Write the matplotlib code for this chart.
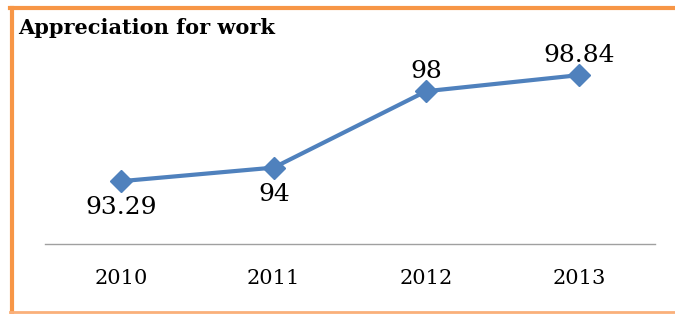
import matplotlib.pyplot as plt
from matplotlib.lines import Line2D

years = ['2010', '2011', '2012', '2013']
values = [93.29, 94, 98, 98.84]
value_labels = ['93.29', '94', '98', '98.84']
label_pos = ['below', 'below', 'above', 'above']

W, H = 675, 314
fig = plt.figure(figsize=(W / 100, H / 100), dpi=100)

# plot area in pixel terms: x 45..655, y(top) 52..244
ax = fig.add_axes([45 / W, 1 - 244 / H, 610 / W, 191 / H])
x = list(range(len(years)))
ax.plot(x, values, color='#4F81BD', linewidth=3, marker='D', markersize=11,
        markerfacecolor='#4F81BD', markeredgecolor='#4F81BD')
ax.set_xlim(-0.5, len(years) - 0.5)
ax.set_ylim(90, 100)

for xi, v, lab, pos in zip(x, values, value_labels, label_pos):
    if pos == 'below':
        ax.annotate(lab, (xi, v), xytext=(0, -11), textcoords='offset points',
                    ha='center', va='top', fontsize=18, family='DejaVu Serif')
    else:
        ax.annotate(lab, (xi, v), xytext=(0, 6), textcoords='offset points',
                    ha='center', va='bottom', fontsize=18, family='DejaVu Serif')

ax.set_xticks(x)
ax.set_xticklabels(years, fontsize=15, family='DejaVu Serif')
ax.tick_params(axis='x', length=0, pad=18)
ax.set_yticks([])
for side in ['top', 'right', 'left']:
    ax.spines[side].set_visible(False)
ax.spines['bottom'].set_color('#A0A0A0')
ax.spines['bottom'].set_linewidth(1)

fig.text(18 / W, 1 - 28 / H, 'Appreciation for work', fontsize=15,
         fontweight='bold', family='DejaVu Serif', va='center', ha='left')

# orange frame
orange = '#F79646'
fig.add_artist(Line2D([10 / W, 1], [1 - 8 / H, 1 - 8 / H], color=orange, linewidth=3,
                      transform=fig.transFigure))
fig.add_artist(Line2D([12 / W, 12 / W], [1 - 8 / H, 1 - 312 / H], color=orange, linewidth=3,
                      transform=fig.transFigure))
fig.add_artist(Line2D([10 / W, 1], [1 - 312 / H, 1 - 312 / H], color='#FAB07A', linewidth=2,
                      transform=fig.transFigure))

fig.savefig('out.png', dpi=100)
